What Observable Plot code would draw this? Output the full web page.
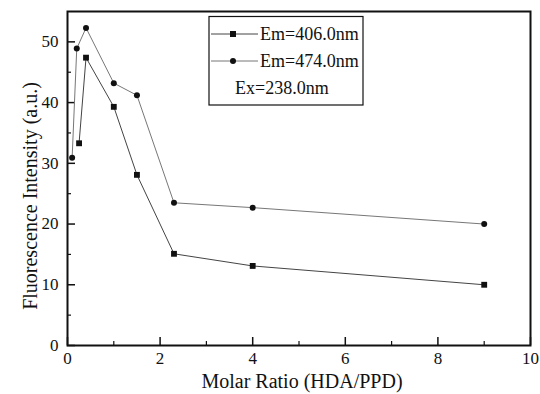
<!DOCTYPE html>
<html><head><meta charset="utf-8">
<script src="https://cdn.jsdelivr.net/npm/d3@7"></script>
<script src="https://cdn.jsdelivr.net/npm/@observablehq/plot@0.6"></script>
<style>
body{margin:0;background:#fff;font-family:'Liberation Serif',serif}
#c{position:relative;width:540px;height:394px}
.ov{position:absolute;font-family:'Liberation Serif',serif;color:#111;white-space:nowrap;line-height:1}
</style>
</head><body><div id="c"></div>
<script>
const ratio406 = [0.25, 0.4, 1.0, 1.5, 2.3, 4, 9];
const int406 = [33.3, 47.4, 39.3, 28.1, 15.1, 13.1, 10.0];
const ratio474 = [0.1, 0.2, 0.4, 1.0, 1.5, 2.3, 4, 9];
const int474 = [30.9, 48.9, 52.3, 43.2, 41.2, 23.5, 22.7, 20.0];
const xMajor = [0, 2, 4, 6, 8, 10];
const xMinor = [1, 3, 5, 7, 9];
const yMajor = [0, 10, 20, 30, 40, 50];
const yMinor = [5, 15, 25, 35, 45];
const seriesNames = ["Em=406.0nm", "Em=474.0nm"];
const noteText = "Ex=238.0nm";
const xTitle = "Molar Ratio (HDA/PPD)";
const yTitle = "Fluorescence Intensity (a.u.)";

const s406 = ratio406.map((x, i) => ({x, y: int406[i]}));
const s474 = ratio474.map((x, i) => ({x, y: int474[i]}));
const font = "Liberation Serif";

const chart = Plot.plot({
  width: 540, height: 394,
  marginLeft: 67, marginRight: 10, marginTop: 11, marginBottom: 49,
  style: {fontFamily: font, fontSize: "17px", color: "#111", background: "#fff"},
  x: {domain: [0, 10]},
  y: {domain: [0, 55]},
  marks: [
    Plot.axisX(xMajor, {tickSize: -8, tickPadding: 14, strokeWidth: 1.5, fontSize: 17, label: null}),
    Plot.axisX(xMinor, {tickSize: -4, text: null, label: null, strokeWidth: 1.2}),
    Plot.axisY(yMajor, {tickSize: -8, tickPadding: 17, strokeWidth: 1.5, fontSize: 17, label: null}),
    Plot.axisY(yMinor, {tickSize: -4, text: null, label: null, strokeWidth: 1.2}),
    Plot.lineY(s474, {x: "x", y: "y", stroke: "#777", strokeWidth: 1}),
    Plot.lineY(s406, {x: "x", y: "y", stroke: "#444", strokeWidth: 1}),
    Plot.dot(s474, {x: "x", y: "y", r: 3, fill: "#111", symbol: "circle"}),
    Plot.dot(s406, {x: "x", y: "y", r: 3.3, fill: "#111", symbol: "square"}),
    Plot.frame({stroke: "#111", strokeWidth: 2})
  ]
});
const host = document.getElementById("c");
host.appendChild(chart);
d3.select(chart).selectAll("text").each(function(){
  this.style.setProperty("font-family", "'Liberation Serif', serif", "important");
});

// legend box (graphics in the svg)
const svg = d3.select(chart);
const lg = svg.append("g");
lg.append("rect").attr("x", 209).attr("y", 16.5).attr("width", 154).attr("height", 88.5)
  .attr("fill", "#fff").attr("stroke", "#111").attr("stroke-width", 1.2);
const rows = [{y: 34, stroke: "#444", sym: "square"}, {y: 61, stroke: "#777", sym: "circle"}];
rows.forEach(r => {
  lg.append("line").attr("x1", 211).attr("x2", 258).attr("y1", r.y).attr("y2", r.y)
    .attr("stroke", r.stroke).attr("stroke-width", 1);
  if (r.sym === "square") lg.append("rect").attr("x", 230).attr("y", r.y - 3).attr("width", 6).attr("height", 6).attr("fill", "#111");
  else lg.append("circle").attr("cx", 233).attr("cy", r.y).attr("r", 3).attr("fill", "#111");
});

// HTML text overlays
function ov(text, css) {
  const d = document.createElement("div");
  d.className = "ov"; d.textContent = text;
  Object.assign(d.style, css);
  host.appendChild(d);
  return d;
}
ov(seriesNames[0], {left: "260px", top: "25px", fontSize: "18px"});
ov(seriesNames[1], {left: "260px", top: "52px", fontSize: "18px"});
ov(noteText, {left: "235px", top: "79px", fontSize: "18px"});
ov(xTitle, {left: "302px", top: "371px", fontSize: "20px", transform: "translateX(-50%)"});
ov(yTitle, {left: "30px", top: "196px", fontSize: "20px", transform: "translate(-50%,-50%) rotate(-90deg)"});
</script></body></html>
